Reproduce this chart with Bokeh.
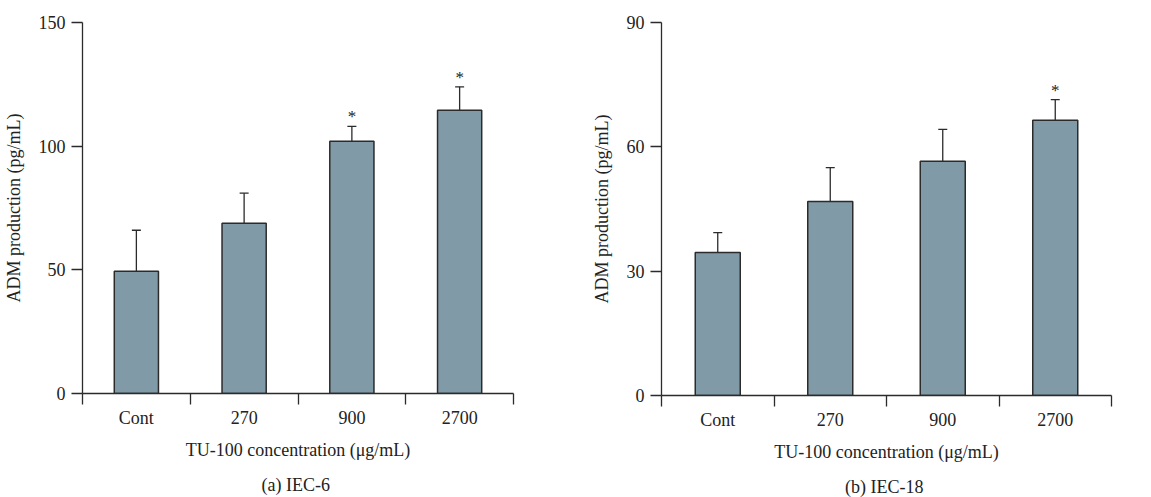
from bokeh.plotting import figure
from bokeh.models import ColumnDataSource, Whisker, TeeHead, FixedTicker, Range1d, Title
from bokeh.layouts import row
from bokeh.core.properties import value
from bokeh.embed import file_html
from bokeh.resources import INLINE

categories = ["Cont", "270", "900", "2700"]

iec6_mean = [49.4, 68.8, 102.0, 114.5]
iec6_sem = [16.6, 12.2, 6.0, 9.5]
iec6_sig = ["", "", "*", "*"]

iec18_mean = [34.5, 46.8, 56.5, 66.4]
iec18_sem = [4.8, 8.2, 7.7, 5.0]
iec18_sig = ["", "", "", "*"]

y6_ticks = [0, 50, 100, 150]
y18_ticks = [0, 30, 60, 90]

FONT = "Liberation Serif"
TXT = "#222222"
BAR = "#809ba7"
LINE = "#2b2b2b"


def make_panel(mean, sem, sig, yticks, caption, b_left, b_right, f_w, f_h, bar_w):
    x = list(range(len(categories)))
    upper = [m + s for m, s in zip(mean, sem)]
    src = ColumnDataSource(dict(x=x, mean=mean, upper=upper, sig=sig))
    p = figure(frame_width=f_w, frame_height=f_h, output_backend="svg", toolbar_location=None,
               x_range=Range1d(-0.5, len(categories) - 0.5),
               y_range=Range1d(yticks[0], yticks[-1]),
               min_border_left=b_left, min_border_right=b_right,
               min_border_top=22, min_border_bottom=0)
    p.outline_line_color = None
    p.xgrid.visible = False
    p.ygrid.visible = False

    p.vbar(x="x", top="mean", bottom=0, width=bar_w, source=src,
           fill_color=BAR, line_color=LINE, line_width=1.5)
    w = Whisker(base="x", lower="mean", upper="upper", source=src,
                line_color=LINE, line_width=1.3, lower_head=None,
                upper_head=TeeHead(size=9, line_color=LINE, line_width=1.3))
    p.add_layout(w)
    p.text(x="x", y="upper", text="sig", source=src, text_align="center",
           text_baseline="bottom", y_offset=0, text_font=value(FONT),
           text_font_size="17px", text_color=TXT)

    xa = p.xaxis[0]
    xa.ticker = FixedTicker(ticks=x, minor_ticks=[i - 0.5 for i in range(len(categories) + 1)])
    xa.major_label_overrides = {i: c for i, c in enumerate(categories)}
    xa.major_tick_in = 0
    xa.major_tick_out = 0
    xa.minor_tick_in = 0
    xa.minor_tick_out = 11
    xa.minor_tick_line_color = LINE
    xa.minor_tick_line_width = 1.3
    xa.axis_line_color = LINE
    xa.axis_line_width = 1.3
    xa.major_label_standoff = 3
    xa.major_label_text_font = FONT
    xa.major_label_text_font_size = "18px"
    xa.major_label_text_color = TXT
    xa.axis_label = "TU-100 concentration (μg/mL)"
    xa.axis_label_text_font = FONT
    xa.axis_label_text_font_size = "18px"
    xa.axis_label_text_font_style = "normal"
    xa.axis_label_text_color = TXT
    xa.axis_label_standoff = 9

    ya = p.yaxis[0]
    ya.ticker = FixedTicker(ticks=yticks, minor_ticks=[])
    ya.major_tick_in = 0
    ya.major_tick_out = 11
    ya.major_tick_line_color = LINE
    ya.major_tick_line_width = 1.3
    ya.minor_tick_out = 0
    ya.minor_tick_in = 0
    ya.axis_line_color = LINE
    ya.axis_line_width = 1.3
    ya.major_label_standoff = 6
    ya.major_label_text_font = FONT
    ya.major_label_text_font_size = "18px"
    ya.major_label_text_color = TXT
    ya.axis_label = "ADM production (pg/mL)"
    ya.axis_label_text_font = FONT
    ya.axis_label_text_font_size = "18px"
    ya.axis_label_text_font_style = "normal"
    ya.axis_label_text_color = TXT
    ya.axis_label_standoff = 12

    t = Title(text=caption, align="center", text_font=FONT, text_font_size="18px",
              text_font_style="normal", text_color=TXT, standoff=20)
    p.add_layout(t, "below")
    return p


p1 = make_panel(iec6_mean, iec6_sem, iec6_sig, y6_ticks, "(a)  IEC-6",
                b_left=82, b_right=64, f_w=431, f_h=371, bar_w=0.41)
p2 = make_panel(iec18_mean, iec18_sem, iec18_sig, y18_ticks, "(b)  IEC-18",
                b_left=84, b_right=12, f_w=450, f_h=373, bar_w=0.40)

layout = row(p1, p2)
open("out.html", "w").write(file_html(layout, INLINE))
